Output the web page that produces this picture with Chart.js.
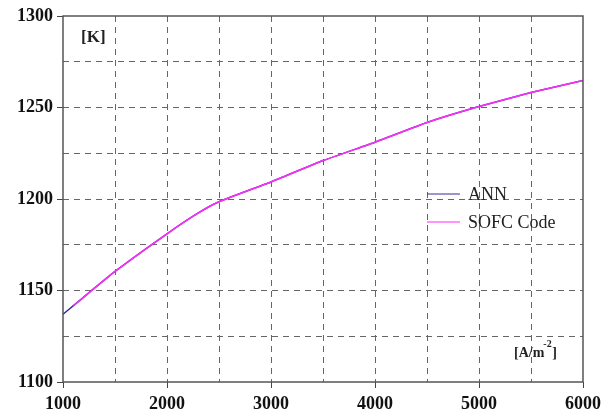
<!DOCTYPE html>
<html>
<head>
<meta charset="utf-8">
<script src="https://cdn.jsdelivr.net/npm/chart.js@4"></script>
<style>
  html, body { margin: 0; padding: 0; background: #fff; }
  #wrap { width: 612px; height: 414px; }
</style>
</head>
<body>
<div id="wrap"><canvas id="chart" width="612" height="414"></canvas></div>
<script>
// current density [A/m^2] and temperature [K]
const currentDensity = [1000, 1100, 1500, 2000, 2290, 2500, 3000, 3500, 4000, 4500, 5000, 5500, 6000];
const annTemp  = [1137, 1141.7, 1160.4, 1181, 1192, 1198.5, 1209.3, 1221, 1231, 1241.8, 1250.5, 1258.2, 1264.8];
const sofcTemp = [null, 1141.7, 1160.4, 1181, 1192, 1198.5, 1209.3, 1221, 1231, 1241.8, 1250.5, 1258.2, 1264.8];
const xTicks = [1000, 2000, 3000, 4000, 5000, 6000];
const yTicks = [1100, 1150, 1200, 1250, 1300];

const serif = "'Liberation Serif', 'DejaVu Serif', serif";

function pts(xs, ys) {
  return xs.map((x, i) => ({ x: x, y: ys[i] })).filter(p => p.y !== null);
}

// frame, legend and unit labels
const extras = {
  id: 'extras',
  afterDraw(chart) {
    const ctx = chart.ctx;
    const a = chart.chartArea;
    ctx.save();
    ctx.strokeStyle = '#555';
    ctx.lineWidth = 1.5;
    ctx.strokeRect(a.left, a.top, a.right - a.left, a.bottom - a.top);

    // legend
    const items = chart.data.datasets;
    ctx.font = '18px ' + serif;
    ctx.textBaseline = 'middle';
    items.forEach((ds, i) => {
      const y = 194 + i * 28;
      ctx.strokeStyle = ds.borderColor;
      ctx.lineWidth = 1.2;
      ctx.beginPath();
      ctx.moveTo(427, y);
      ctx.lineTo(460, y);
      ctx.stroke();
      ctx.fillStyle = '#222';
      ctx.fillText(ds.label, 468, y + 1);
    });

    // units
    ctx.fillStyle = '#222';
    ctx.font = 'bold 17px ' + serif;
    ctx.textBaseline = 'alphabetic';
    ctx.fillText('[K]', 81, 42);
    ctx.font = 'bold 14px ' + serif;
    ctx.fillText('[A/m', 514, 357);
    const w = ctx.measureText('[A/m').width;
    ctx.font = 'bold 10px ' + serif;
    ctx.fillText('-2', 514 + w - 1, 347);
    ctx.font = 'bold 14px ' + serif;
    ctx.fillText(']', 514 + w + 8, 357);
    ctx.restore();
  }
};

new Chart(document.getElementById('chart'), {
  type: 'line',
  data: {
    datasets: [{
      label: 'ANN',
      data: pts(currentDensity, annTemp),
      borderColor: '#3b2d8f',
      borderWidth: 1.5,
      pointRadius: 0,
      fill: false,
      tension: 0.15,
      order: 1
    }, {
      label: 'SOFC Code',
      data: pts(currentDensity, sofcTemp),
      borderColor: '#ff2bff',
      borderWidth: 1.5,
      pointRadius: 0,
      fill: false,
      tension: 0.15,
      order: 0
    }]
  },
  options: {
    responsive: false,
    animation: false,
    layout: { padding: { top: 16, right: 29, left: 0, bottom: 0 } },
    plugins: { legend: { display: false }, tooltip: { enabled: false } },
    scales: {
      x: {
        type: 'linear',
        min: 1000, max: 6000,
        afterFit(s) { s.height = 32; },
        afterBuildTicks(s) {
          s.ticks = [];
          for (let v = 1000; v <= 6000; v += 500) s.ticks.push({ value: v });
        },
        ticks: {
          autoSkip: false,
          maxRotation: 0,
          color: '#111',
          font: { family: serif, size: 18, weight: 'bold' },
          padding: 6,
          callback: (v) => xTicks.includes(v) ? String(v) : ''
        },
        grid: {
          color: (c) => (c.tick && (c.tick.value === 1000 || c.tick.value === 6000)) ? 'rgba(0,0,0,0)' : '#666',
          lineWidth: 1,
          tickLength: 6,
          tickColor: (c) => (c.tick && xTicks.includes(c.tick.value)) ? '#444' : 'rgba(0,0,0,0)',
          tickBorderDash: []
        },
        border: { display: false, dash: [6, 5] }
      },
      y: {
        min: 1100, max: 1300,
        afterFit(s) { s.width = 63; },
        ticks: {
          stepSize: 25,
          autoSkip: false,
          color: '#111',
          font: { family: serif, size: 18, weight: 'bold' },
          padding: 4,
          callback: (v) => yTicks.includes(v) ? String(v) : ''
        },
        grid: {
          color: (c) => (c.tick && (c.tick.value === 1100 || c.tick.value === 1300)) ? 'rgba(0,0,0,0)' : '#666',
          lineWidth: 1,
          tickLength: 6,
          tickColor: (c) => (c.tick && yTicks.includes(c.tick.value)) ? '#444' : 'rgba(0,0,0,0)',
          tickBorderDash: []
        },
        border: { display: false, dash: [6, 5] }
      }
    }
  },
  plugins: [extras]
});
</script>
</body>
</html>
